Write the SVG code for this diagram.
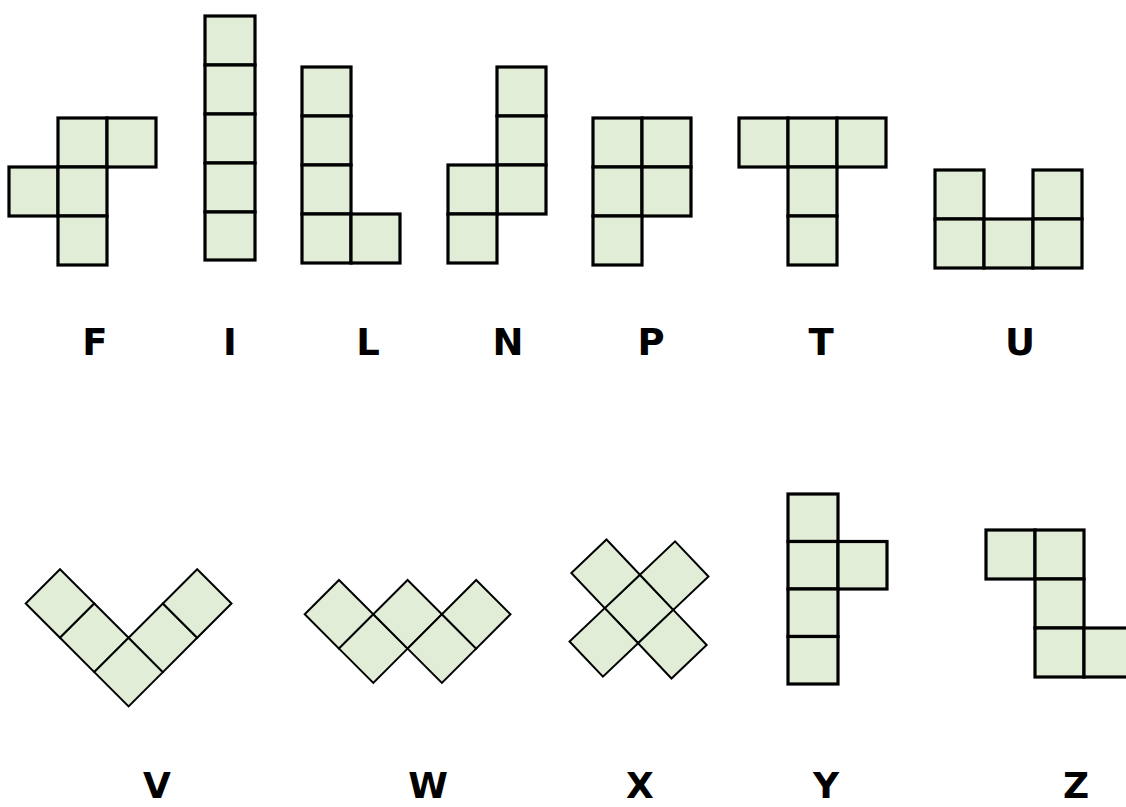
<svg xmlns="http://www.w3.org/2000/svg" xmlns:xlink="http://www.w3.org/1999/xlink" width="1126" height="807" viewBox="0 0 1126 807">
  <style>
    .sq { fill: #e1edd7; stroke: #000; stroke-width: 3.2; }
    .dg { fill: #e1edd7; stroke: #000; stroke-width: 2; stroke-linejoin: miter; }
    .lbl { font-family: "DejaVu Sans", Verdana, sans-serif; font-weight: bold; font-size: 37px; fill: #000; text-anchor: middle; }
    .lbl2 { font-size: 36px; }
  </style>
  <defs>
    <polygon id="dia" points="0,-34.3 34.3,0 0,34.3 -34.3,0"/>
  </defs>
  <rect width="1126" height="807" fill="#fff"/>

  <g id="F">
    <rect class="sq" x="58" y="118" width="49" height="49"/>
    <rect class="sq" x="107" y="118" width="49" height="49"/>
    <rect class="sq" x="9" y="167" width="49" height="49"/>
    <rect class="sq" x="58" y="167" width="49" height="49"/>
    <rect class="sq" x="58" y="216" width="49" height="49"/>
    <text class="lbl" x="95" y="355">F</text>
  </g>

  <g id="I">
    <rect class="sq" x="205" y="16" width="50" height="49"/>
    <rect class="sq" x="205" y="65" width="50" height="49"/>
    <rect class="sq" x="205" y="114" width="50" height="49"/>
    <rect class="sq" x="205" y="163" width="50" height="49"/>
    <rect class="sq" x="205" y="212" width="50" height="48"/>
    <text class="lbl" x="230" y="355">I</text>
  </g>

  <g id="L">
    <rect class="sq" x="302" y="67" width="49" height="49"/>
    <rect class="sq" x="302" y="116" width="49" height="49"/>
    <rect class="sq" x="302" y="165" width="49" height="49"/>
    <rect class="sq" x="302" y="214" width="49" height="49"/>
    <rect class="sq" x="351" y="214" width="49" height="49"/>
    <text class="lbl" x="368" y="355">L</text>
  </g>

  <g id="N">
    <rect class="sq" x="497" y="67" width="49" height="49"/>
    <rect class="sq" x="497" y="116" width="49" height="49"/>
    <rect class="sq" x="497" y="165" width="49" height="49"/>
    <rect class="sq" x="448" y="165" width="49" height="49"/>
    <rect class="sq" x="448" y="214" width="49" height="49"/>
    <text class="lbl" x="508" y="355">N</text>
  </g>

  <g id="P">
    <rect class="sq" x="593" y="118" width="49" height="49"/>
    <rect class="sq" x="642" y="118" width="49" height="49"/>
    <rect class="sq" x="593" y="167" width="49" height="49"/>
    <rect class="sq" x="642" y="167" width="49" height="49"/>
    <rect class="sq" x="593" y="216" width="49" height="49"/>
    <text class="lbl" x="651" y="355">P</text>
  </g>

  <g id="T">
    <rect class="sq" x="739" y="118" width="49" height="49"/>
    <rect class="sq" x="788" y="118" width="49" height="49"/>
    <rect class="sq" x="837" y="118" width="49" height="49"/>
    <rect class="sq" x="788" y="167" width="49" height="49"/>
    <rect class="sq" x="788" y="216" width="49" height="49"/>
    <text class="lbl" x="821" y="355">T</text>
  </g>

  <g id="U">
    <rect class="sq" x="935" y="170" width="49" height="49"/>
    <rect class="sq" x="1033" y="170" width="49" height="49"/>
    <rect class="sq" x="935" y="219" width="49" height="49"/>
    <rect class="sq" x="984" y="219" width="49" height="49"/>
    <rect class="sq" x="1033" y="219" width="49" height="49"/>
    <text class="lbl" x="1020" y="355">U</text>
  </g>

  <g id="V">
    <use class="dg" xlink:href="#dia" href="#dia" x="60" y="603.5"/>
    <use class="dg" xlink:href="#dia" href="#dia" x="94.3" y="637.8"/>
    <use class="dg" xlink:href="#dia" href="#dia" x="128.6" y="672.1"/>
    <use class="dg" xlink:href="#dia" href="#dia" x="162.9" y="637.8"/>
    <use class="dg" xlink:href="#dia" href="#dia" x="197.2" y="603.5"/>
    <text class="lbl lbl2" x="157" y="798">V</text>
  </g>

  <g id="W">
    <use class="dg" xlink:href="#dia" href="#dia" x="339" y="614.3"/>
    <use class="dg" xlink:href="#dia" href="#dia" x="373.3" y="648.6"/>
    <use class="dg" xlink:href="#dia" href="#dia" x="407.6" y="614.3"/>
    <use class="dg" xlink:href="#dia" href="#dia" x="441.9" y="648.6"/>
    <use class="dg" xlink:href="#dia" href="#dia" x="476.2" y="614.3"/>
    <text class="lbl lbl2" x="428" y="798">W</text>
  </g>

  <g id="X">
    <g transform="rotate(1.5 639 609)">
      <use class="dg" xlink:href="#dia" href="#dia" x="639" y="609"/>
      <use class="dg" xlink:href="#dia" href="#dia" x="604.7" y="574.7"/>
      <use class="dg" xlink:href="#dia" href="#dia" x="673.3" y="574.7"/>
      <use class="dg" xlink:href="#dia" href="#dia" x="604.7" y="643.3"/>
      <use class="dg" xlink:href="#dia" href="#dia" x="673.3" y="643.3"/>
    </g>
    <text class="lbl lbl2" x="640" y="798">X</text>
  </g>

  <g id="Y">
    <rect class="sq" x="788" y="494" width="50" height="47.5"/>
    <rect class="sq" x="788" y="541.5" width="50" height="47.5"/>
    <rect class="sq" x="838" y="541.5" width="49" height="47.5"/>
    <rect class="sq" x="788" y="589" width="50" height="47.5"/>
    <rect class="sq" x="788" y="636.5" width="50" height="47.5"/>
    <text class="lbl lbl2" x="826" y="798">Y</text>
  </g>

  <g id="Z">
    <rect class="sq" x="986" y="530" width="49" height="49"/>
    <rect class="sq" x="1035" y="530" width="49" height="49"/>
    <rect class="sq" x="1035" y="579" width="49" height="49"/>
    <rect class="sq" x="1035" y="628" width="49" height="49"/>
    <rect class="sq" x="1084" y="628" width="49" height="49"/>
    <text class="lbl lbl2" x="1076" y="798">Z</text>
  </g>

  <g id="connectors"/>
</svg>
